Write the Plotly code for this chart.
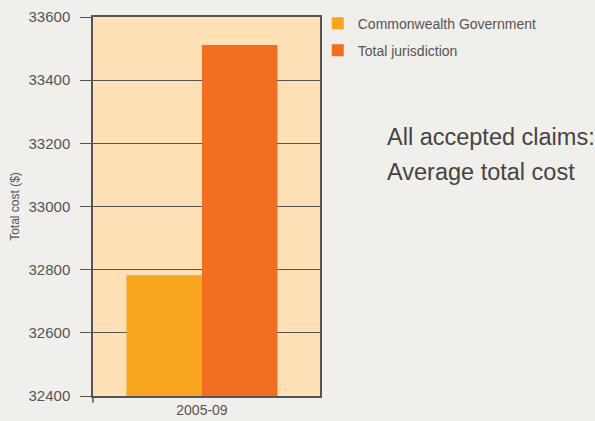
import plotly.graph_objects as go

categories = ["2005-09"]
series_names = ["Commonwealth Government", "Total jurisdiction"]
commonwealth = [32782]
total_jurisdiction = [33511]
y_ticks = [32400, 32600, 32800, 33000, 33200, 33400, 33600]
title_lines = ["All accepted claims:", "Average total cost"]

colors = ["#F7A51E", "#F26F21"]
font_fam = "Liberation Sans, Arial, sans-serif"

fig = go.Figure()
for i, (name, vals, c) in enumerate(zip(series_names, [commonwealth, total_jurisdiction], colors)):
    fig.add_trace(go.Bar(x=categories, y=vals, name=name, legendgroup=f"g{i}",
                         marker=dict(color=c, line=dict(width=0))))

annots = []
for txt, yy in zip(title_lines, [0.683, 0.591]):
    annots.append(dict(text=txt, xref="paper", yref="paper",
                       x=1.286, y=yy, xanchor="left", yanchor="middle", align="left",
                       showarrow=False, font=dict(size=23.5, color="#444444", family=font_fam)))

fig.update_layout(
    width=595, height=421,
    barmode="group", bargap=0.335, bargroupgap=0,
    paper_bgcolor="#F0EFEB", plot_bgcolor="#FDE0B6",
    margin=dict(l=93, r=275, t=17, b=25, autoexpand=False),
    font=dict(family=font_fam, color="#555555"),
    showlegend=True,
    legend=dict(x=0.99, y=1.025, xanchor="left", yanchor="top",
                bgcolor="rgba(0,0,0,0)", font=dict(size=14, color="#555555"),
                itemwidth=30, tracegroupgap=6),
    annotations=annots,
)
fig.update_yaxes(range=[32400, 33600], tickvals=y_ticks, tickformat="d", showgrid=True,
                 gridcolor="#555555", gridwidth=1, automargin=False,
                 ticks="outside", ticklen=11, tickcolor="#555555", showline=True, linecolor="#555555",
                 linewidth=1.5, mirror=True, tickfont=dict(size=15, color="#555555"),
                 ticklabelstandoff=7,
                 title=dict(text="Total cost ($)", font=dict(size=12, color="#555555"), standoff=6),
                 zeroline=False)
fig.update_xaxes(type="category", range=[-0.48, 0.52], showline=True, linecolor="#555555",
                 linewidth=1.5, mirror=True,
                 ticks="", automargin=False, tickfont=dict(size=14, color="#555555"))
fig.add_shape(type="line", xref="paper", yref="paper", x0=0, x1=0, y0=0, y1=-0.018,
              line=dict(color="#555555", width=1.5))
fig.write_html("out.html", config={"displayModeBar": False},
               post_script="document.body.style.margin='0';document.body.style.overflow='hidden';document.body.style.background='#F0EFEB';")
